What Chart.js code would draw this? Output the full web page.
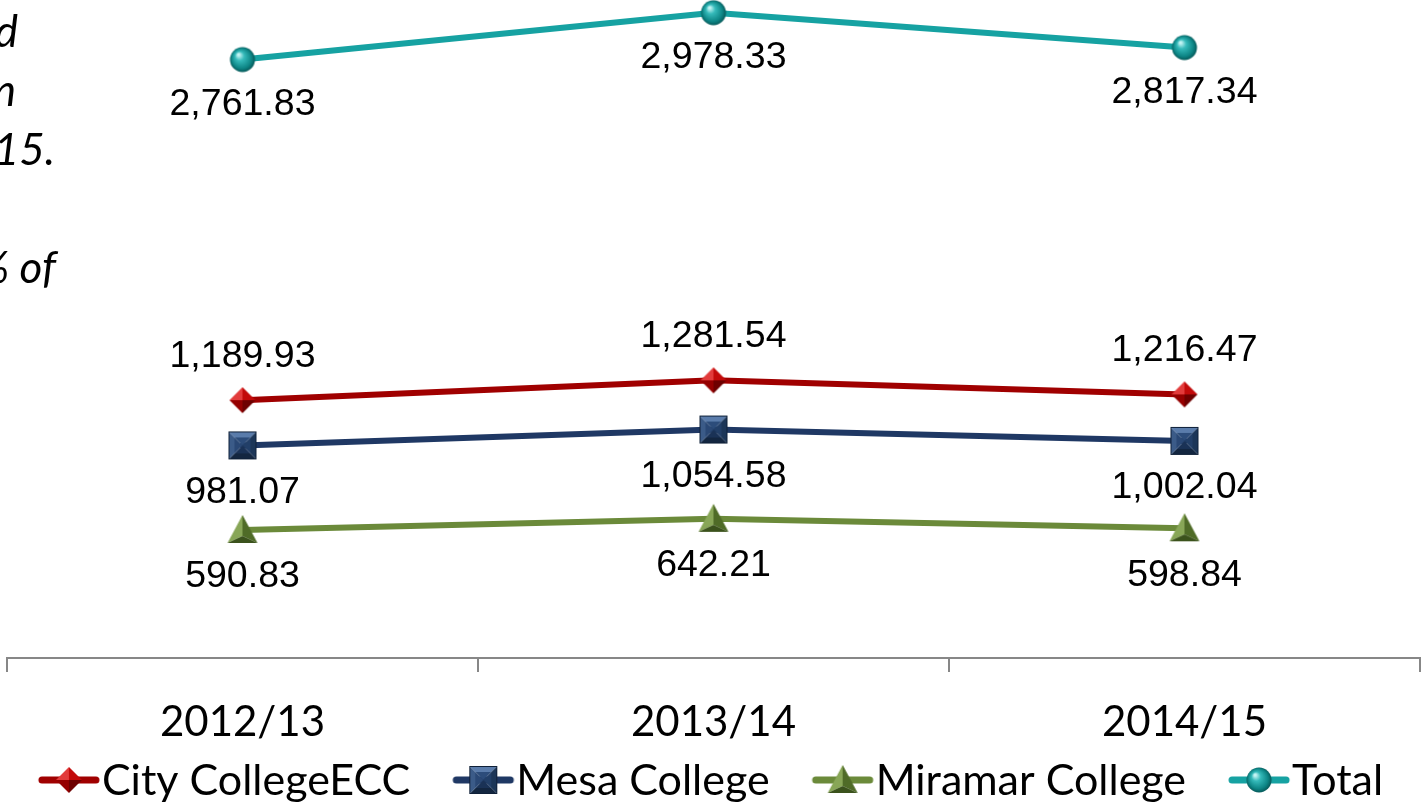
<!DOCTYPE html>
<html><head><meta charset="utf-8">
<script src="https://cdn.jsdelivr.net/npm/chart.js@4"></script>
<style>html,body{margin:0;padding:0;background:#fff;overflow:hidden}#wrap{position:relative;width:1422px;height:805px}</style>
</head><body><div id="wrap"><canvas id="c" width="1422" height="805"></canvas></div>
<script>
// ---- data ----
const categories = ['2012/13', '2013/14', '2014/15'];
const seriesNames = ['City CollegeECC', 'Mesa College', 'Miramar College', 'Total'];
const cityCollegeECC = [1189.93, 1281.54, 1216.47];
const mesaCollege = [981.07, 1054.58, 1002.04];
const miramarCollege = [590.83, 642.21, 598.84];
const total = [2761.83, 2978.33, 2817.34];
const sideTextLines = ['d', 'n', '/15.', '% of'];

// ---- marker images ----
function mk(w, h) { const c = document.createElement('canvas'); c.width = w; c.height = h; return c; }
function poly(ctx, pts, fill) { ctx.beginPath(); ctx.moveTo(pts[0][0], pts[0][1]); for (let i = 1; i < pts.length; i++) ctx.lineTo(pts[i][0], pts[i][1]); ctx.closePath(); ctx.fillStyle = fill; ctx.fill(); }
function drawDiamond(ctx, cx, cy) {
  const r = 13, T = [cx, cy - r], R = [cx + r, cy], B = [cx, cy + r], L = [cx - r, cy], C = [cx, cy];
  poly(ctx, [L, T, C], '#e23b3b'); poly(ctx, [T, R, C], '#c20a0a');
  poly(ctx, [R, B, C], '#6e0000'); poly(ctx, [B, L, C], '#950000');
}
function drawSquare(ctx, cx, cy) {
  const s = 14, i = 8;
  const o = [[cx - s, cy - s], [cx + s, cy - s], [cx + s, cy + s], [cx - s, cy + s]];
  const n = [[cx - i, cy - i], [cx + i, cy - i], [cx + i, cy + i], [cx - i, cy + i]];
  poly(ctx, [o[0], o[1], n[1], n[0]], '#5a7cab'); poly(ctx, [o[1], o[2], n[2], n[1]], '#1c3658');
  poly(ctx, [o[2], o[3], n[3], n[2]], '#132640'); poly(ctx, [o[3], o[0], n[0], n[3]], '#3b5b88');
  const C = [cx, cy];
  poly(ctx, [n[0], n[1], C], '#2c4c7a'); poly(ctx, [n[1], n[2], C], '#223f68');
  poly(ctx, [n[2], n[3], C], '#1a3256'); poly(ctx, [n[3], n[0], C], '#2a4875');
  ctx.strokeStyle = '#0f2038'; ctx.lineWidth = 1; ctx.strokeRect(cx - s + 0.5, cy - s + 0.5, 2 * s - 1, 2 * s - 1);
}
function drawTriangle(ctx, cx, cy) {
  const A = [cx, cy - 15], BL = [cx - 15, cy + 13], BR = [cx + 15, cy + 13], C = [cx, cy + 6];
  poly(ctx, [A, BL, C], '#88a657'); poly(ctx, [A, C, BR], '#4f6b27'); poly(ctx, [BL, BR, C], '#3b521c');
}
function drawSphere(ctx, cx, cy) {
  const g = ctx.createRadialGradient(cx - 4, cy - 5, 1, cx, cy, 13);
  g.addColorStop(0, '#c4f4f4'); g.addColorStop(0.3, '#35baba'); g.addColorStop(0.75, '#0d8585'); g.addColorStop(1, '#055353');
  ctx.beginPath(); ctx.arc(cx, cy, 12.5, 0, Math.PI * 2); ctx.fillStyle = g; ctx.fill();
}
const markerDrawers = [drawDiamond, drawSquare, drawTriangle, drawSphere];
const lineColors = ['#a00000', '#1f3864', '#6b8a3a', '#16a2a2'];
const labelOffsets = [-44, 47, 47, 45];
const pointImgs = markerDrawers.map(f => { const c = mk(34, 34); f(c.getContext('2d'), 17, 17); return c; });
const legendImgs = markerDrawers.map((f, k) => {
  const c = mk(64, 34), ctx = c.getContext('2d');
  ctx.strokeStyle = lineColors[k]; ctx.lineWidth = 7; ctx.lineCap = 'round';
  ctx.beginPath(); ctx.moveTo(5, 17); ctx.lineTo(59, 17); ctx.stroke();
  f(ctx, 32, 17); return c;
});

const fmt = new Intl.NumberFormat('en-US', { minimumFractionDigits: 2, maximumFractionDigits: 2 });

const labelsPlugin = {
  id: 'valueLabels',
  afterDatasetsDraw(chart) {
    const ctx = chart.ctx; ctx.save();
    ctx.font = '37.5px "Liberation Sans", Arial, sans-serif'; ctx.fillStyle = '#000';
    ctx.textAlign = 'center'; ctx.textBaseline = 'middle';
    chart.data.datasets.forEach((ds, i) => {
      chart.getDatasetMeta(i).data.forEach((el, j) => {
        ctx.fillText(fmt.format(ds.data[j]), el.x, el.y + labelOffsets[i]);
      });
    });
    ctx.restore();
  }
};
const legendPlugin = {
  id: 'lineLegend',
  afterDraw(chart) {
    const ctx = chart.ctx; ctx.save();
    ctx.font = '43px Lato, "Open Sans", sans-serif'; ctx.fillStyle = '#000'; ctx.textBaseline = 'middle';
    const gapText = 3, gapItem = 43, mw = 60;
    const widths = chart.data.datasets.map(ds => mw + gapText + ctx.measureText(ds.label).width);
    const totalW = widths.reduce((a, b) => a + b, 0) + gapItem * (widths.length - 1);
    let x = (chart.width - totalW) / 2; const y = 780;
    chart.data.datasets.forEach((ds, i) => {
      ctx.drawImage(legendImgs[i], x - 2, y - 17);
      ctx.fillText(ds.label, x + mw + gapText, y + 1);
      x += widths[i] + gapItem;
    });
    ctx.restore();
  }
};
const sidePlugin = {
  id: 'sideText',
  afterDraw(chart) {
    const ctx = chart.ctx; ctx.save();
    ctx.font = 'italic 44px Lato, "Open Sans", sans-serif'; ctx.fillStyle = '#000';
    ctx.textAlign = 'right'; ctx.textBaseline = 'alphabetic';
    const pos = [[18, 47], [16, 106], [55, 165], [56, 283]];
    sideTextLines.forEach((t, i) => ctx.fillText(t, pos[i][0], pos[i][1]));
    ctx.restore();
  }
};

const seriesValues = [cityCollegeECC, mesaCollege, miramarCollege, total];
new Chart(document.getElementById('c'), {
  type: 'line',
  data: {
    labels: categories,
    datasets: seriesValues.map((vals, i) => ({
      label: seriesNames[i], data: vals,
      borderColor: lineColors[i], backgroundColor: lineColors[i],
      borderWidth: 6, tension: 0, pointStyle: pointImgs[i], pointRadius: 14, clip: false,
      borderCapStyle: 'round', borderJoinStyle: 'round'
    }))
  },
  options: {
    responsive: false, animation: false,
    layout: { autoPadding: false, padding: { top: 8, left: 7, right: 2, bottom: 60 } },
    plugins: { legend: { display: false }, tooltip: { enabled: false } },
    scales: {
      x: {
        offset: true,
        afterFit(scale) { scale.paddingLeft = 0; scale.paddingRight = 0; scale.paddingTop = 0; scale.paddingBottom = 0; scale.height = 87; },
        grid: { offset: true, drawOnChartArea: false, drawTicks: true, tickLength: 14, color: '#878787', lineWidth: 2 },
        border: { display: true, color: '#878787', width: 2 },
        ticks: { font: { family: 'Lato', size: 42 }, color: '#000', padding: 25, maxRotation: 0, autoSkip: false }
      },
      y: { display: false, min: 0, max: 3000 }
    }
  },
  plugins: [labelsPlugin, legendPlugin, sidePlugin]
});
</script></body></html>
